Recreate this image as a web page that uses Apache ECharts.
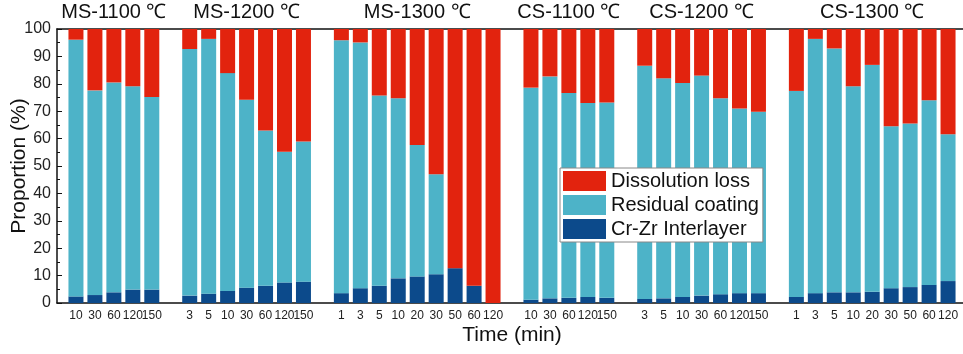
<!DOCTYPE html>
<html lang="en">
<head>
    <meta charset="UTF-8"/>
    <script src="https://cdn.jsdelivr.net/npm/echarts@6/dist/echarts.min.js"></script>
    <title>Proportion</title>
    <style>
        html, body { margin: 0; padding: 0; background: #fff; }
    </style>
</head>
<body>
<div id="main" style="width:963px; height:354px;"></div>
<script type="text/javascript">
    // groups and time points (min)
    var groupNames = ['MS-1100 \u2103', 'MS-1200 \u2103', 'MS-1300 \u2103', 'CS-1100 \u2103', 'CS-1200 \u2103', 'CS-1300 \u2103'];
    var groupTimes = [
        [10, 30, 60, 120, 150],
        [3, 5, 10, 30, 60, 120, 150],
        [1, 3, 5, 10, 20, 30, 50, 60, 120],
        [10, 30, 60, 120, 150],
        [3, 5, 10, 30, 60, 120, 150],
        [1, 3, 5, 10, 20, 30, 50, 60, 120]
    ];

    // proportions (%)
    var interlayer = [
        [2.4, 2.9, 3.9, 4.9, 4.9],
        [2.7, 3.4, 4.4, 5.6, 6.3, 7.5, 7.8],
        [3.6, 5.4, 6.3, 9.0, 9.7, 10.5, 12.7, 6.3, 0],
        [1.2, 1.7, 1.9, 2.2, 1.9],
        [1.5, 1.7, 2.2, 2.7, 3.2, 3.6, 3.6],
        [2.2, 3.6, 3.9, 3.9, 4.1, 5.4, 5.8, 6.6, 8.0]
    ];
    var residual = [
        [93.7, 74.7, 76.6, 74.2, 70.3],
        [90.0, 93.0, 79.5, 68.6, 56.7, 47.7, 51.1],
        [92.3, 89.7, 69.4, 65.7, 48.0, 36.5, 0, 0, 0],
        [77.4, 81.0, 74.7, 70.8, 71.3],
        [85.1, 80.3, 78.1, 80.3, 71.5, 67.4, 66.2],
        [75.2, 92.8, 89.0, 75.2, 82.8, 59.1, 59.7, 67.4, 53.6]
    ];
    var dissolution = [
        [3.9, 22.4, 19.5, 20.9, 24.8],
        [7.3, 3.6, 16.1, 25.8, 37.0, 44.8, 41.1],
        [4.1, 4.9, 24.3, 25.3, 42.3, 53.0, 87.3, 93.7, 100],
        [21.4, 17.3, 23.4, 27.0, 26.8],
        [13.4, 18.0, 19.7, 17.0, 25.3, 29.0, 30.2],
        [22.6, 3.6, 7.1, 20.9, 13.1, 35.5, 34.5, 26.0, 38.4]
    ];

    var seriesNames = ['Dissolution loss', 'Residual coating', 'Cr-Zr Interlayer'];
    var colors = ['#E2230E', '#4DB3C8', '#0C4A8B'];

    // flatten groups into one category axis, with an empty slot between groups
    var cats = ['s0'], bottomLabels = [''], topLabels = [''];
    var dLoss = ['-'], dRes = ['-'], dInt = ['-'];
    for (var g = 0; g < groupTimes.length; g++) {
        var t = groupTimes[g];
        var mid = Math.floor(t.length / 2);
        for (var i = 0; i < t.length; i++) {
            cats.push('g' + g + '_' + i);
            bottomLabels.push(String(t[i]));
            topLabels.push(i === mid ? groupNames[g] : '');
            dInt.push(interlayer[g][i]);
            dRes.push(residual[g][i]);
            dLoss.push(dissolution[g][i]);
        }
        cats.push('s' + (g + 1));
        bottomLabels.push('');
        topLabels.push('');
        dInt.push('-'); dRes.push('-'); dLoss.push('-');
    }

    var font = 'Arial, "Liberation Sans", sans-serif';
    var myChart = echarts.init(document.getElementById('main'));

    function bar(name, data, color) {
        return {
            name: name,
            type: 'bar',
            stack: 'total',
            barWidth: 15,
            data: data,
            itemStyle: { color: color },
            emphasis: { disabled: true }
        };
    }

    var option = {
        animation: false,
        textStyle: { fontFamily: font },
        grid: { left: 57, right: -4, top: 29, bottom: 51, outerBoundsMode: 'none', containLabel: false },
        legend: {
            data: seriesNames,
            orient: 'vertical',
            left: 560,
            top: 168,
            icon: 'rect',
            itemWidth: 43,
            itemHeight: 20,
            itemGap: 4,
            itemStyle: { borderWidth: 0 },
            padding: [3, 4, 3, 3],
            backgroundColor: '#fff',
            borderColor: '#888',
            borderWidth: 1,
            borderRadius: 0,
            textStyle: { fontSize: 20, color: '#111', fontFamily: font },
            z: 10
        },
        xAxis: [
            {
                type: 'category',
                boundaryGap: false,
                data: cats,
                axisLine: { lineStyle: { color: '#111', width: 1.5 } },
                axisTick: { show: false },
                axisLabel: {
                    interval: 0,
                    fontSize: 12,
                    color: '#222',
                    margin: 7,
                    hideOverlap: false,
                    formatter: function (v, idx) { return bottomLabels[idx]; }
                },
                name: 'Time (min)',
                nameLocation: 'middle',
                nameGap: 22,
                nameMoveOverlap: false,
                nameTextStyle: { fontSize: 21, color: '#111' },
                splitLine: { show: false }
            },
            {
                type: 'category',
                position: 'top',
                boundaryGap: false,
                data: cats,
                axisLine: { lineStyle: { color: '#111', width: 1.5 } },
                axisTick: { show: false },
                axisLabel: {
                    interval: 0,
                    fontSize: 20,
                    color: '#111',
                    margin: 7,
                    hideOverlap: false,
                    formatter: function (v, idx) { return topLabels[idx]; }
                },
                splitLine: { show: false }
            }
        ],
        yAxis: {
            type: 'value',
            min: 0,
            max: 100,
            interval: 10,
            name: 'Proportion (%)',
            nameLocation: 'middle',
            nameGap: 27,
            nameMoveOverlap: false,
            nameTextStyle: { fontSize: 21, color: '#111' },
            axisLine: { show: true, lineStyle: { color: '#111', width: 1.5 } },
            axisTick: { show: true, inside: true, length: 5, lineStyle: { color: '#111' } },
            minorTick: { show: true, splitNumber: 2, length: 3, lineStyle: { color: '#111' } },
            axisLabel: { fontSize: 16, color: '#222', margin: 6 },
            splitLine: { show: false }
        },
        series: [
            bar(seriesNames[2], dInt, colors[2]),
            bar(seriesNames[1], dRes, colors[1]),
            bar(seriesNames[0], dLoss, colors[0])
        ]
    };

    myChart.setOption(option);
</script>
</body>
</html>
